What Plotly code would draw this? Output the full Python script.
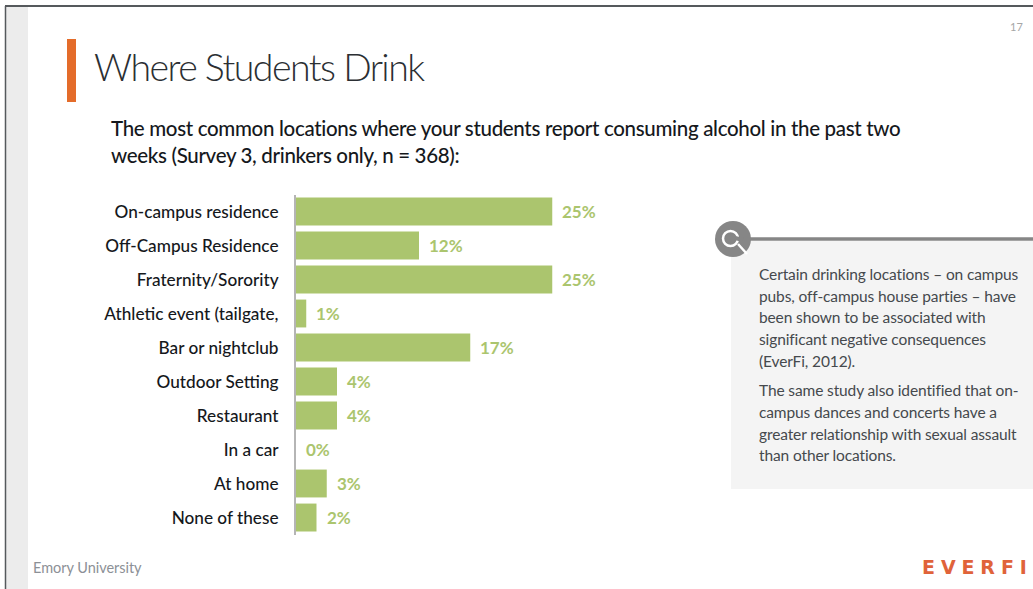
import plotly.graph_objects as go

W, H = 1033, 589

locations = ["On-campus residence", "Off-Campus Residence", "Fraternity/Sorority",
             "Athletic event (tailgate,", "Bar or nightclub", "Outdoor Setting",
             "Restaurant", "In a car", "At home", "None of these"]
shares = [25, 12, 25, 1, 17, 4, 4, 0, 3, 2]

title_text = "Where Students Drink"
subtitle_lines = ["The most common locations where your students report consuming alcohol in the past two",
                  "weeks (Survey 3, drinkers only, n = 368):"]
note_lines = ["Certain drinking locations – on campus", "pubs, off-campus house parties – have",
              "been shown to be associated with", "significant negative consequences", "(EverFi, 2012).",
              "The same study also identified that on-", "campus dances and concerts have a",
              "greater relationship with sexual assault", "than other locations."]

GREEN = "#abc56e"
FONT = "Lato"


def px(x):
    return x / W


def py(y):
    return 1 - y / H


def rect(x0, y0, x1, y1, fill):
    return dict(type="rect", xref="paper", yref="paper", x0=px(x0), x1=px(x1), y0=py(y0), y1=py(y1),
                fillcolor=fill, line_width=0, layer="below")


def line(x0, y0, x1, y1, color, width):
    return dict(type="line", xref="paper", yref="paper", x0=px(x0), x1=px(x1), y0=py(y0), y1=py(y1),
                line=dict(color=color, width=width), layer="above")


def circle(cx, cy, r, fill, outline=None, width=0):
    return dict(type="circle", xref="paper", yref="paper", x0=px(cx - r), x1=px(cx + r),
                y0=py(cy + r), y1=py(cy - r), fillcolor=fill,
                line=dict(color=outline or fill, width=width), layer="above")


def spaced(text, spacing):
    return f'<span style="letter-spacing:{spacing}px">{text}</span>'


def label(x, y, text, size, color, anchor="left", weight=None, family=FONT):
    return dict(xref="paper", yref="paper", x=px(x), y=py(y), text=text, showarrow=False,
                xanchor=anchor, yanchor="middle", borderpad=0,
                font=dict(family=family, size=size, color=color, weight=weight))


fig = go.Figure(go.Bar(
    x=shares, y=locations, orientation="h", marker=dict(color=GREEN, line_width=0),
    hoverinfo="skip", width=0.82,
))

# slide furniture: frame, side strip, accent bar, callout panel and its icon
shapes = [
    rect(6, 7, 28, H, "#ececec"),
    rect(67, 39, 76, 102, "#e46c2a"),
    rect(731, 241, W, 489, "#f4f4f4"),
    line(5, 6, W, 6, "#55595c", 2),
    line(5.5, 6, 5.5, H, "#55595c", 1.5),
    line(745, 239, W, 239, "#868686", 3.5),
    circle(733, 239, 18, "#868686"),
    circle(730.5, 238.5, 7.5, "#868686", "#ffffff", 2.5),
    line(735, 238, 743, 240, "#868686", 4),
    line(738, 244, 747, 254, "#ffffff", 2.5),
]

annotations = [
    label(93, 67, spaced(title_text, -1.55), 37.5, "#2b2f33", weight=300),
    label(110, 128, spaced(subtitle_lines[0], -0.32), 20.5, "#15181c", weight=500),
    label(110, 155, spaced(subtitle_lines[1], -0.32), 20.5, "#15181c", weight=500),
    label(1016, 27, "17", 11, "#a6a6a6", anchor="center"),
    label(31.5, 567, spaced("Emory University", -0.03), 14.5, "#8c9096"),
    label(921, 567, spaced("EVERFI", 5.9), 19, "#e0633a", weight=700, family="DejaVu Sans"),
]

note_rows = [274, 296, 317, 339, 361, 390, 412, 434, 455]
annotations += [label(757.5, y, spaced(t, -0.12), 15.5, "#45494d") for y, t in zip(note_rows, note_lines)]

# value labels sit a fixed distance past the end of each bar
annotations += [
    dict(x=v, y=c, xref="x", yref="y", text=f"{v}%", showarrow=False, xanchor="left", yanchor="middle",
         xshift=8, font=dict(family=FONT, size=17, color=GREEN, weight=700))
    for c, v in zip(locations, shares)
]

fig.update_layout(
    width=W, height=H, autosize=False, margin=dict(l=0, r=0, t=0, b=0),
    paper_bgcolor="white", plot_bgcolor="white", showlegend=False,
    shapes=shapes, annotations=annotations,
    xaxis=dict(domain=[px(296), px(603.5)], range=[0, 30], visible=False, fixedrange=True),
    yaxis=dict(domain=[py(534.5), py(194.5)], categoryorder="array", categoryarray=locations,
               autorange="reversed", anchor="x", showgrid=False, zeroline=False,
               showline=True, linecolor="#b5b5b5", linewidth=2,
               ticks="outside", ticklen=12, tickcolor="rgba(0,0,0,0)",
               tickfont=dict(family=FONT, size=17.2, color="#15181c", weight=500), fixedrange=True),
)

fig.write_html("out.html", config=dict(displayModeBar=False))
